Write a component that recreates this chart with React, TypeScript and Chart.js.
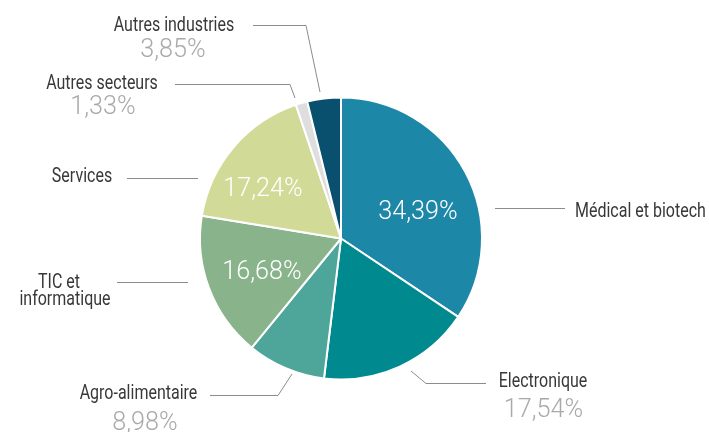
import React, { useEffect, useRef } from "react";
import { Chart, registerables } from "chart.js";

Chart.register(...registerables);

const categories = [
  "Médical et biotech",
  "Electronique",
  "Agro-alimentaire",
  "TIC et informatique",
  "Services",
  "Autres secteurs",
  "Autres industries",
];
const values = [34.39, 17.54, 8.98, 16.68, 17.24, 1.33, 3.85];
const colors = ["#1d87a8", "#00898f", "#4ea59a", "#88b38b", "#d2da98", "#dedede", "#08506e"];

// label text lines per category (display split)
const labelLines = [
  ["Médical et biotech"],
  ["Electronique"],
  ["Agro-alimentaire"],
  ["TIC et", "informatique"],
  ["Services"],
  ["Autres secteurs"],
  ["Autres industries"],
];

// layout of annotations (pixel positions in canvas)
type Layout = {
  lines: { x: number; y: number }[];
  align: CanvasTextAlign;
  pct?: { x: number; y: number; inside: boolean };
  leader: [number, number][];
};
const layouts: Layout[] = [
  { lines: [{ x: 575, y: 210 }], align: "left", pct: { x: 418, y: 210, inside: true }, leader: [[495, 208.5], [565, 208.5]] },
  { lines: [{ x: 543, y: 380 }], align: "center", pct: { x: 543.5, y: 407.5, inside: false }, leader: [[411, 371], [426, 383.5], [486, 383.5]] },
  { lines: [{ x: 138.5, y: 392 }], align: "center", pct: { x: 145, y: 421, inside: false }, leader: [[292, 374], [278, 395.5], [210, 395.5]] },
  { lines: [{ x: 59, y: 281 }, { x: 65, y: 298 }], align: "center", pct: { x: 262, y: 270, inside: true }, leader: [[117, 282.5], [188, 282.5]] },
  { lines: [{ x: 82, y: 175 }], align: "center", pct: { x: 263, y: 187, inside: true }, leader: [[127, 178.5], [198, 178.5]] },
  { lines: [{ x: 102, y: 82 }], align: "center", pct: { x: 103, y: 105, inside: false }, leader: [[175, 84.5], [290, 84.5], [295, 98]] },
  { lines: [{ x: 174, y: 24 }], align: "center", pct: { x: 173, y: 48, inside: false }, leader: [[253, 25.5], [306, 25.5], [320, 92]] },
];

const fmt = (v: number) => v.toFixed(2).replace(".", ",") + "%";

const LABEL_SIZE = 20;
const LABEL_SCALE = 0.8;
const PCT_SIZE = 26;
const CAP = 0.711;

const annotPlugin = {
  id: "annot",
  afterDatasetsDraw(chart: any) {
    const ctx: CanvasRenderingContext2D = chart.ctx;
    const vals: number[] = chart.data.datasets[0].data;
    ctx.save();
    layouts.forEach((L, i) => {
      // leader
      ctx.strokeStyle = "#8c8c8c";
      ctx.lineWidth = 1;
      ctx.beginPath();
      L.leader.forEach(([x, y], k) => (k === 0 ? ctx.moveTo(x, y) : ctx.lineTo(x, y)));
      ctx.stroke();
      // labels
      ctx.fillStyle = "#383838";
      ctx.font = `400 ${LABEL_SIZE}px Roboto, "Noto Sans", sans-serif`;
      ctx.textBaseline = "alphabetic";
      labelLines[i].forEach((t, k) => {
        const p = L.lines[k];
        ctx.save();
        ctx.translate(p.x, p.y + (LABEL_SIZE * CAP) / 2);
        ctx.scale(LABEL_SCALE, 1);
        ctx.textAlign = L.align;
        ctx.fillText(t, 0, 0);
        ctx.restore();
      });
      if (L.pct) {
        ctx.fillStyle = L.pct.inside ? "#ffffff" : "#a9a9a9";
        ctx.font = `300 ${PCT_SIZE}px Roboto, "Noto Sans", sans-serif`;
        ctx.save();
        ctx.translate(L.pct.x, L.pct.y + (PCT_SIZE * CAP) / 2);
        ctx.scale(0.97, 1);
        ctx.textAlign = "center";
        ctx.fillText(fmt(vals[i]), 0, 0);
        ctx.restore();
      }
    });
    ctx.restore();
  },
};

export default function App() {
  const ref = useRef<HTMLCanvasElement | null>(null);
  useEffect(() => {
    if (!ref.current) return;
    const chart = new Chart(ref.current, {
      type: "pie",
      data: {
        labels: categories,
        datasets: [
          {
            data: values,
            backgroundColor: colors,
            borderColor: "#ffffff",
            borderWidth: 2,
          },
        ],
      },
      options: {
        animation: false,
        responsive: false,
        devicePixelRatio: 1,
        layout: { padding: { left: 199, right: 226, top: 96.5, bottom: 51.5 } },
        plugins: {
          legend: { display: false },
          tooltip: { enabled: false },
        },
      },
      plugins: [annotPlugin],
    });
    return () => chart.destroy();
  }, []);
  return (
    <div style={{ position: "fixed", left: 0, top: 0, width: 709, height: 432, background: "#fff" }}>
      <canvas ref={ref} width={709} height={432} style={{ width: 709, height: 432 }} />
    </div>
  );
}
